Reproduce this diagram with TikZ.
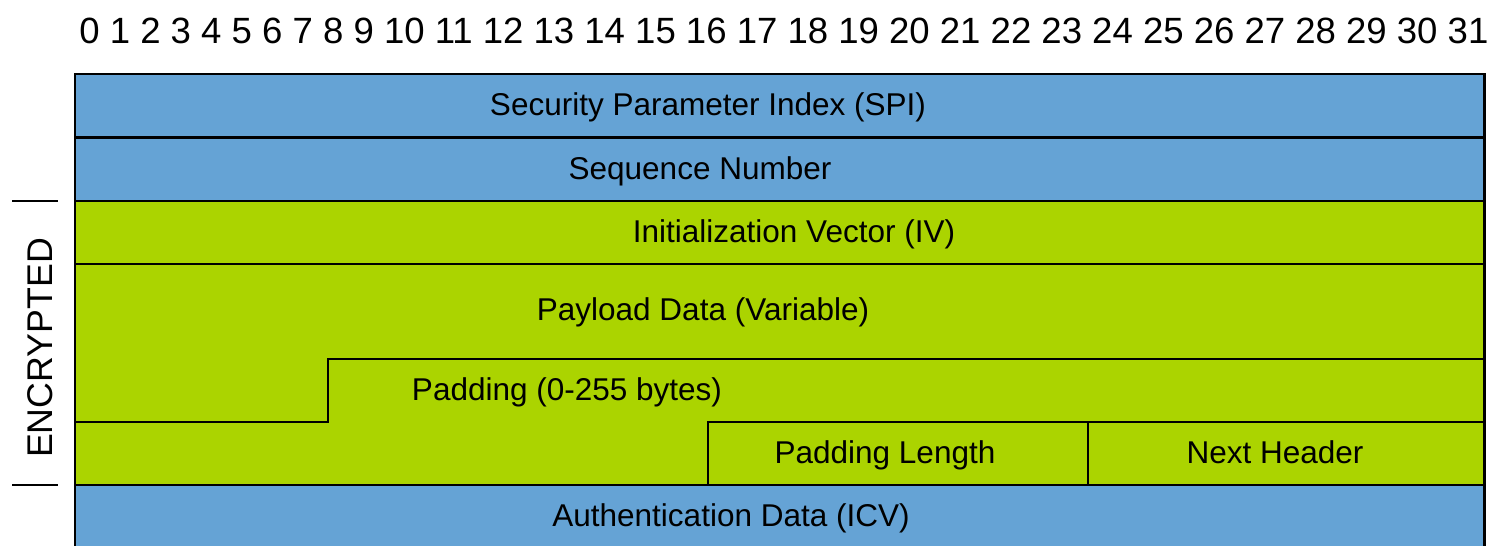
\documentclass[tikz,border=0pt]{standalone}
\definecolor{EspBlue}{HTML}{65A3D5}
\definecolor{EspGreen}{HTML}{ABD400}
\usepackage{fontspec}
\setmainfont{Liberation Sans}
\usepackage{tikz}

\begin{document}
\begin{tikzpicture}[x=0.01cm,y=-0.01cm,
    field/.style={font=\fontsize{8.96pt}{10pt}\selectfont,inner sep=0pt,anchor=base},
    rule/.style={black,line width=0.6pt}]
    \useasboundingbox (0,0) rectangle (1501,545);
    \fill[EspBlue] (75,74) rectangle (1484,201);
    \fill[EspGreen] (75,201) rectangle (1484,485);
    \fill[EspBlue] (75,485) rectangle (1484,550);
    \foreach \y in {137.5,201,264,485}{
      \draw[rule] (75,\y) -- (1484,\y);
    }
    \draw[rule] (1484,359) -- (328,359) -- (328,422) -- (75,422);
    \draw[rule] (1484,422) -- (708,422) -- (708,485);
    \draw[rule] (1088,422) -- (1088,485);
    % outer frame
    \draw[line width=0.85pt] (75,550) -- (75,74) -- (1484,74) -- (1484,550);
    \node[field,font=\fontsize{10.39pt}{12pt}\selectfont] (bits) at (784,43)
      {0 1 2 3 4 5 6 7 8 9 10 11 12 13 14 15 16 17 18 19 20 21 22 23 24 25 26 27 28 29 30 31};
    \node[field] (spi) at (708,115) {Security Parameter Index (SPI)};
    \node[field] (seq) at (700,179) {Sequence Number};
    \node[field] (iv) at (794,242) {Initialization Vector (IV)};
    \node[field] (payload) at (703,320) {Payload Data (Variable)};
    \node[field] (padding) at (567,400.5) {Padding (0-255 bytes)};
    \node[field] (padlen) at (885,463) {Padding Length};
    \node[field] (nexthdr) at (1275,463) {Next Header};
    \node[field] (auth) at (731,526) {Authentication Data (ICV)};
    % encrypted marker
    \node[field,font=\fontsize{10.16pt}{12pt}\selectfont,rotate=90] (enc) at (52,348) {ENCRYPTED};
    \draw[rule] (12,201) -- (58,201);
    \draw[rule] (12,485) -- (58,485);
\end{tikzpicture}
\end{document}
